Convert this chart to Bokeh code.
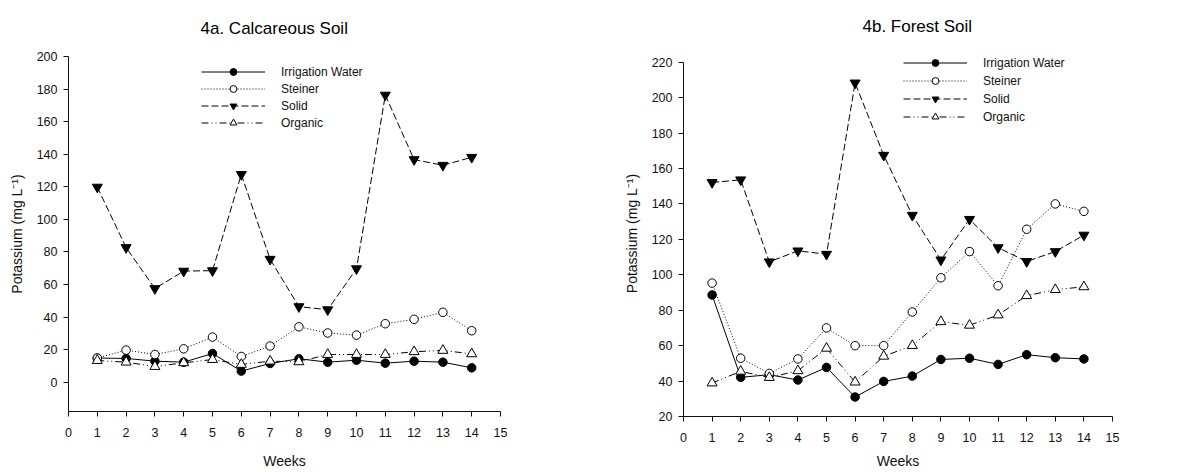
from bokeh.plotting import figure
from bokeh.models import Range1d, FixedTicker, Legend, LegendItem, Title
from bokeh.layouts import row
from bokeh.embed import file_html
from bokeh.resources import INLINE

weeks = list(range(1, 15))
x_ticks = list(range(0, 16))
series_names = ["Irrigation Water", "Steiner", "Solid", "Organic"]

calc_irrigation = [14.8, 14.6, 12.9, 12.3, 17.6, 6.8, 11.5, 14.4, 12.3, 13.5, 11.7, 12.9, 12.3, 8.8]
calc_steiner = [14.8, 19.7, 17.0, 20.5, 27.7, 15.8, 22.2, 34.0, 30.2, 28.9, 35.9, 38.6, 42.9, 31.6]
calc_solid = [119.8, 82.7, 57.5, 68.2, 68.5, 127.6, 75.5, 46.4, 44.5, 69.7, 176.3, 136.7, 133.2, 138.1]
calc_organic = [13.3, 12.3, 9.6, 11.9, 13.9, 10.9, 12.9, 12.5, 17.0, 17.0, 17.0, 18.7, 19.5, 17.4]
calc_y_ticks = list(range(0, 201, 20))

forest_irrigation = [88.6, 42.1, 43.6, 40.6, 47.7, 31.0, 39.8, 42.8, 52.2, 52.9, 49.4, 54.9, 53.2, 52.5]
forest_steiner = [95.3, 52.9, 44.3, 52.5, 70.0, 60.0, 60.0, 79.0, 98.3, 113.1, 93.8, 125.7, 140.0, 135.8]
forest_solid = [152.1, 153.6, 107.3, 113.5, 111.6, 208.3, 167.5, 133.6, 108.4, 131.3, 115.3, 107.5, 113.1, 122.4]
forest_organic = [38.9, 45.5, 42.0, 45.8, 58.5, 39.4, 54.0, 60.0, 73.5, 71.5, 77.3, 88.2, 91.6, 93.2]
forest_y_ticks = list(range(20, 221, 20))

FONT = "Liberation Sans"
INK = "#111111"

styles = [
    dict(dash="solid", marker="circle", fill="black", size=8.5),
    dict(dash="1 2", marker="circle", fill="white", size=8.5),
    dict(dash="7 3", marker="inverted_triangle", fill="black", size=10),
    dict(dash="7 3 1 3 1 3", marker="triangle", fill="white", size=10),
]


def make_fig(title_text, title_offset, title_standoff, series, yr, ybounds, yticks,
             width, border_left, border_right, border_top, border_bottom, height,
             leg_x, leg_y, leg_spacing, xlabel_standoff):
    p = figure(width=width, height=height, output_backend="svg", toolbar_location=None,
               x_range=Range1d(0, 15), y_range=Range1d(*yr),
               min_border_left=border_left, min_border_right=border_right,
               min_border_top=border_top, min_border_bottom=border_bottom)
    p.frame_align = False
    p.title = Title(text=title_text, align="left", vertical_align="top",
                    offset=title_offset, text_font=FONT, text_font_size="17px",
                    text_font_style="normal", text_color="black",
                    standoff=title_standoff)
    p.outline_line_color = None
    p.xgrid.visible = False
    p.ygrid.visible = False
    for ax in (p.xaxis[0], p.yaxis[0]):
        ax.axis_line_color = INK
        ax.major_tick_line_color = INK
        ax.major_tick_out = 5
        ax.major_tick_in = 0
        ax.minor_tick_line_color = None
        ax.major_label_text_font = FONT
        ax.major_label_text_font_size = "12.5px"
        ax.major_label_text_color = INK
        ax.axis_label_text_font = FONT
        ax.axis_label_text_font_size = "14px"
        ax.axis_label_text_font_style = "normal"
        ax.axis_label_text_color = INK
    p.xaxis.ticker = FixedTicker(ticks=x_ticks)
    p.yaxis.ticker = FixedTicker(ticks=yticks)
    p.yaxis.bounds = ybounds
    p.xaxis.axis_label = "Weeks"
    p.yaxis.axis_label = "Potassium (mg L\u207b\u00b9)"
    p.xaxis.major_label_standoff = 11
    p.xaxis.axis_label_standoff = xlabel_standoff
    p.yaxis.major_label_standoff = 6
    p.yaxis.axis_label_standoff = 9

    items = []
    for name, vals, st in zip(series_names, series, styles):
        ln = p.line(weeks, vals, line_color="black", line_width=1, line_dash=st["dash"])
        sc = p.scatter(weeks, vals, marker=st["marker"], size=st["size"],
                       fill_color=st["fill"], line_color="black", line_width=1)
        items.append(LegendItem(label=name, renderers=[ln, sc]))
    leg = Legend(items=items, location=(leg_x, leg_y), padding=0, margin=0,
                 spacing=leg_spacing, glyph_width=64, glyph_height=17, label_height=17,
                 label_standoff=16, label_text_font=FONT, label_text_font_size="12px",
                 label_text_color=INK, border_line_alpha=0, background_fill_alpha=0)
    p.add_layout(leg, "center")
    return p


p1 = make_fig("4a. Calcareous Soil", 132, 33,
              [calc_irrigation, calc_steiner, calc_solid, calc_organic],
              (-18, 200), (-18, 200), calc_y_ticks,
              598, 68, 98, 56, 61, 472, 133, 280, 0, 13)
p2 = make_fig("4b. Forest Soil", 179, 26,
              [forest_irrigation, forest_steiner, forest_solid, forest_organic],
              (20, 226.6), (20, 220), forest_y_ticks,
              598, 85, 84, 50, 56, 472, 220, 291, 1, 8)

layout = row(p1, p2)
open("out.html", "w").write(file_html(layout, INLINE))
